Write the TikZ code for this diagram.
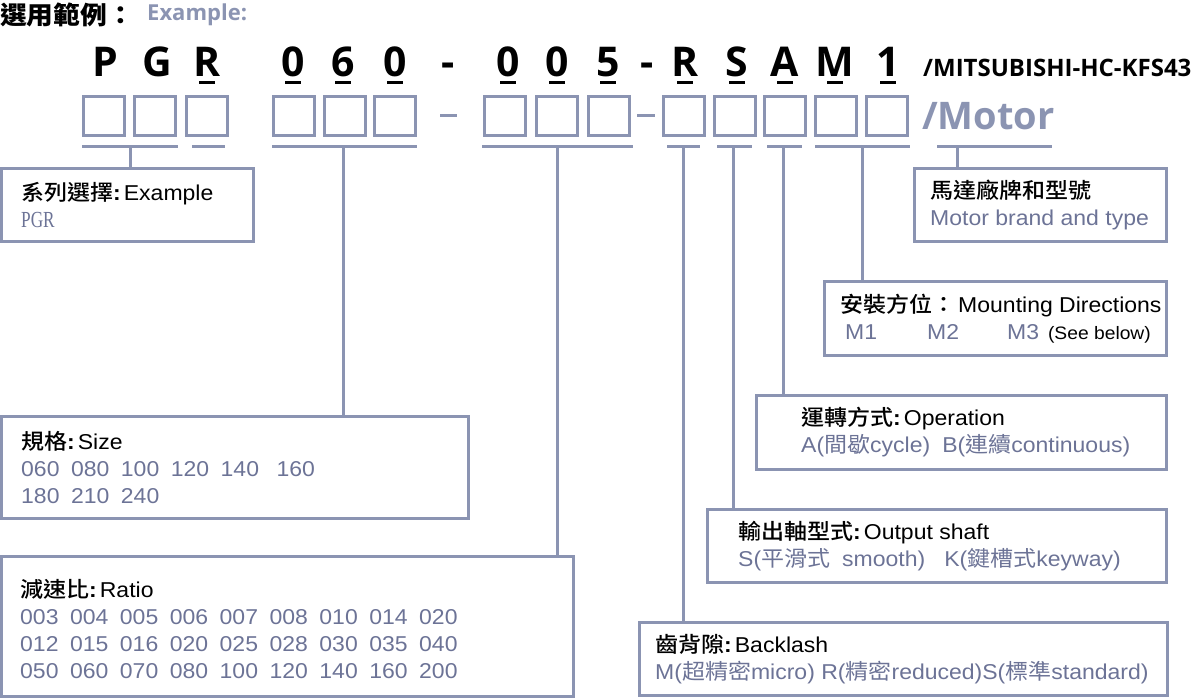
\documentclass[tikz,border=0pt]{standalone}
\usepackage{fontspec}
\setmainfont{Liberation Sans}[FakeStretch=1.07]
\newfontfamily\zhfont{Noto Sans CJK TC}[FakeStretch=1.07]
\IfFontExistsTF{Noto Sans CJK TC Medium}
    {\newfontfamily\zhmedfont{Noto Sans CJK TC Medium}[FakeStretch=1.07]}
    {\newcommand{\zhmedfont}{\zhfont}}
\newfontfamily\codefont{Open Sans}
\newfontfamily\pgrfont{Liberation Serif}[FakeStretch=0.75]
\usetikzlibrary{positioning, calc}

\definecolor{lineblue}{RGB}{139,148,178}
\definecolor{textblue}{RGB}{108,115,150}
\newcommand{\zh}[1]{{\zhfont #1}}
\newcommand{\zhm}[1]{{\zhmedfont #1}}
\newcommand{\zhb}[1]{{\zhfont\bfseries #1}}
\newcommand{\hc}{\textbf{:}\hspace{3pt}}
\newcommand{\numgap}{\hspace{11.5pt}}

\tikzset{
    rule/.style={lineblue, line width=3pt},
    codebox/.style={draw=lineblue, line width=3pt, minimum width=41pt, minimum height=39pt, inner sep=0pt},
    infobox/.style={draw=lineblue, line width=3pt, inner sep=0pt, anchor=north west},
    infotext/.style={inner sep=0pt, align=left, font=\fontsize{21.5}{27}\selectfont},
    codeletter/.style={inner sep=0pt, anchor=base, font=\codefont\bfseries\fontsize{41}{41}\selectfont},
}

\begin{document}
\begin{tikzpicture}[x=1pt, y=-1pt]
        \useasboundingbox (0, 0) rectangle (1200, 700);
        \path (0, 25) node[anchor=base west, inner sep=0pt, font=\fontsize{25}{25}\selectfont](Title){\zhb{選用範例：}};
        \path (147, 21) node[anchor=base west, inner sep=0pt, text=lineblue, font=\codefont\bfseries\fontsize{22}{22}\selectfont](TitleEn){Example:};
        \foreach \x/\c/\u [count=\i] in {105/P/0, 157/G/0, 207/R/1, 293/0/1, 343/6/1, 395/0/1, 448/-/0, 508/0/1, 557/0/1, 608/5/1, 647/-/0, 685/R/1, 737/S/1, 785/A/1, 835/M/1, 888/1/1} {
            \path (\x, 77) node[codeletter](L\i){\c};
            \ifnum\u=1 \draw[black, line width=3pt] (\x-8, 83) -- (\x+8, 83); \fi
        }
        \path (923, 77) node[anchor=base west, inner sep=0pt, font=\codefont\bfseries\fontsize{24}{24}\selectfont](Brand){/MITSUBISHI-HC-KFS43};
        \path (922, 130) node[anchor=base west, inner sep=0pt, text=lineblue, font=\codefont\bfseries\fontsize{38}{38}\selectfont](Motor){/Motor};
        \foreach \x in {104, 155, 207, 294, 345, 395, 505, 557, 609, 684, 735, 785, 836, 887}
            \path (\x, 116) node[codebox](S\x){};
        \draw[rule] (440, 116) -- (457, 116);
        \draw[rule] (637, 116) -- (655, 116);
        \draw[rule] (192, 147) -- (225, 147);

        \path (0, 167) node[infobox, minimum width=252pt, minimum height=73pt](SeriesBox){};
        \path (913, 167) node[infobox, minimum width=252pt, minimum height=73pt](MotorBox){};
        \path (823, 280) node[infobox, minimum width=342pt, minimum height=74pt](MountBox){};
        \path (0, 415) node[infobox, minimum width=467pt, minimum height=102pt](SizeBox){};
        \path (755, 394) node[infobox, minimum width=410pt, minimum height=74pt](OperBox){};
        \path (706, 508) node[infobox, minimum width=459pt, minimum height=73pt](ShaftBox){};
        \path (0, 555) node[infobox, minimum width=572pt, minimum height=140pt](RatioBox){};
        \path (638, 621) node[infobox, minimum width=528pt, minimum height=73pt](BackBox){};

        \node[infotext, right=21pt of SeriesBox.west](SeriesText){\zhm{系列選擇}\hc Example \\
            \textcolor{textblue}{\pgrfont\fontsize{23}{27}\selectfont PGR}};
        \node[infotext, right=17pt of MotorBox.west](MotorText){\zhm{馬達廠牌和型號} \\
            \textcolor{textblue}{Motor brand and type}};
        \node[infotext, right=17pt of MountBox.west](MountText){\zhm{安裝方位：}\hspace{3pt}Mounting Directions \\
            \textcolor{textblue}{\hspace*{5pt}M1\hspace{50pt}M2\hspace{48pt}M3}\hspace{9pt}{\fontsize{18}{27}\selectfont(See below)}};
        \node[infotext, right=21pt of SizeBox.west](SizeText){\zhm{規格}\hc Size \\
            \textcolor{textblue}{060\numgap080\numgap100\numgap120\numgap140\hspace{17.5pt}160} \\
            \textcolor{textblue}{180\numgap210\numgap240}};
        \node[infotext, right=46pt of OperBox.west](OperText){\zhm{運轉方式}\hc Operation \\
            \textcolor{textblue}{A(\zh{間歇}cycle)\hspace{12pt}B(\zh{連續}continuous)}};
        \node[infotext, right=32pt of ShaftBox.west](ShaftText){\zhm{輸出軸型式}\hc Output shaft \\
            \textcolor{textblue}{S(\zh{平滑式}\hspace{12pt}smooth)\hspace{19pt}K(\zh{鍵槽式}keyway)}};
        \node[infotext, right=20pt of RatioBox.west, yshift=-3pt](RatioText){\zhm{減速比}\hc Ratio \\
            \textcolor{textblue}{003\numgap004\numgap005\numgap006\numgap007\numgap008\numgap010\numgap014\numgap020} \\
            \textcolor{textblue}{012\numgap015\numgap016\numgap020\numgap025\numgap028\numgap030\numgap035\numgap040} \\
            \textcolor{textblue}{050\numgap060\numgap070\numgap080\numgap100\numgap120\numgap140\numgap160\numgap200}};
        \node[infotext, right=17pt of BackBox.west](BackText){\zhm{齒背隙}\hc Backlash \\
            \textcolor{textblue}{M(\zh{超精密}micro) R(\zh{精密}reduced)S(\zh{標準}standard)}};

        \foreach \a/\m/\b/\t in {82/130/178/SeriesBox, 272/343/417/SizeBox, 482/557/633/RatioBox, 667/683/700/BackBox, 717/733/752/ShaftBox, 767/783/802/OperBox, 815/862/910/MountBox, 937/957/1052/MotorBox} {
            \draw[rule] (\a, 147) -- (\b, 147);
            \coordinate (t\t) at (\m, 147);
            \draw[rule] (t\t) -- (t\t |- \t.north);
        }
    \end{tikzpicture}
\end{document}
